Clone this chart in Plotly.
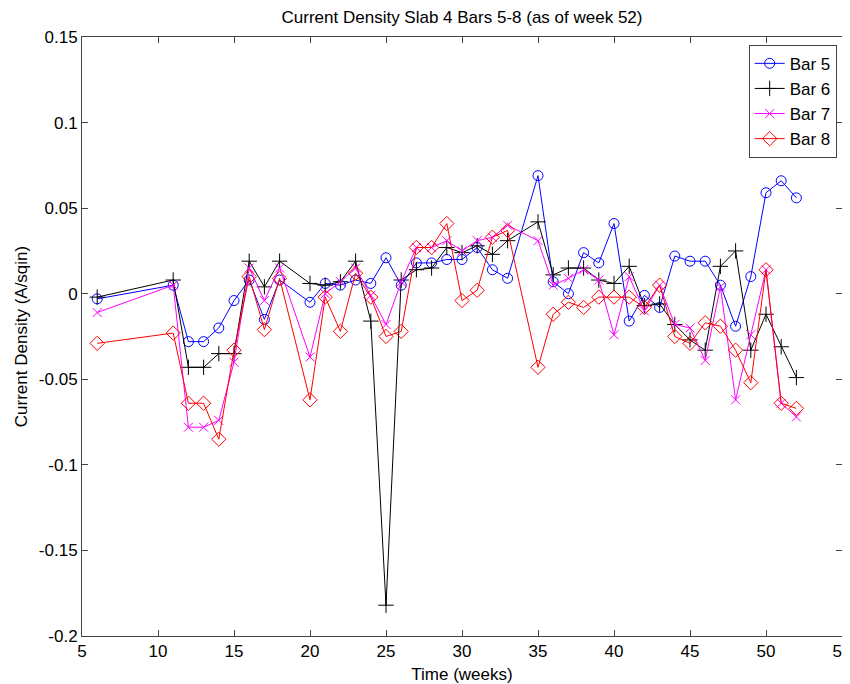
import plotly.graph_objects as go

weeks = [6, 11, 12, 13, 14, 15, 16, 17, 18, 20, 21, 22, 23, 24, 25, 26, 27, 28, 29,
         30, 31, 32, 33, 35, 36, 37, 38, 39, 40, 41, 42, 43, 44, 45, 46, 47, 48, 49,
         50, 51, 52]

bar5 = [-0.003, 0.005, -0.028, -0.028, -0.020, -0.004, 0.008, -0.015, 0.008, -0.005,
        0.006, 0.005, 0.008, 0.006, 0.021, 0.005, 0.018, 0.018, 0.020,
        0.020, 0.027, 0.014, 0.009, 0.069, 0.007, 0.000, 0.024, 0.018, 0.041, -0.016,
        -0.001, -0.008, 0.022, 0.019, 0.019, 0.005, -0.019, 0.010, 0.059, 0.066, 0.056]

bar6 = [-0.002, 0.008, -0.043, -0.043, -0.035, -0.035, 0.019, 0.004, 0.019, 0.006,
        0.005, 0.007, 0.019, -0.016, -0.182, 0.008, 0.014, 0.015, 0.027,
        0.024, 0.028, 0.023, 0.031, 0.042, 0.011, 0.015, 0.015, 0.008, 0.006, 0.016,
        -0.007, -0.006, -0.018, -0.027, -0.033, 0.016, 0.025, -0.033, -0.012, -0.031, -0.049]

bar7 = [-0.011, 0.005, -0.078, -0.078, -0.074, -0.040, 0.015, -0.004, 0.015, -0.037,
        0.000, 0.007, 0.015, -0.001, -0.018, 0.007, 0.027, 0.027, 0.031,
        0.025, 0.031, 0.033, 0.040, 0.031, 0.005, 0.009, 0.014, 0.008, -0.024, 0.010,
        -0.010, 0.005, -0.018, -0.020, -0.039, 0.004, -0.062, -0.024, 0.014, -0.064, -0.072]

bar8 = [-0.029, -0.023, -0.064, -0.064, -0.085, -0.033, 0.010, -0.021, 0.009, -0.062,
        -0.002, -0.022, 0.012, -0.002, -0.025, -0.022, 0.027, 0.027, 0.041,
        -0.004, 0.002, 0.033, 0.037, -0.043, -0.012, -0.005, -0.008, -0.002, -0.002, -0.002,
        -0.008, 0.005, -0.025, -0.029, -0.017, -0.019, -0.033, -0.052, 0.014, -0.064, -0.067]

series = [
    ("Bar 5", bar5, "#0000ff", "circle-open", 10),
    ("Bar 6", bar6, "#000000", "cross-thin-open", 11),
    ("Bar 7", bar7, "#ff00ff", "x-thin-open", 9),
    ("Bar 8", bar8, "#ff0000", "diamond-open", 11),
]

FONT = "Liberation Sans, Arial"
FS = 17

fig = go.Figure()
for name, vals, col, sym, sz in series:
    fig.add_trace(go.Scatter(
        x=weeks, y=vals, name=name, mode="lines+markers",
        line=dict(color=col, width=1),
        marker=dict(symbol=sym, size=sz, color=col, line=dict(color=col, width=1)),
    ))

axis_common = dict(
    showline=True, linecolor="#444444", linewidth=1, mirror="ticks",
    ticks="inside", ticklen=6, tickcolor="#444444", showgrid=False, zeroline=False,
    tickfont=dict(family=FONT, size=FS, color="black"),
    automargin=False, ticklabeloverflow="allow",
)

fig.update_layout(
    width=842, height=676,
    paper_bgcolor="white", plot_bgcolor="white",
    margin=dict(l=74, r=8, t=29, b=48),
    title=dict(text="Current Density Slab 4 Bars 5-8 (as of week 52)",
               xref="paper", x=0.5, xanchor="center",
               yref="container", y=0.987, yanchor="middle",
               font=dict(family=FONT, size=FS, color="black")),
    xaxis=dict(range=[5, 55], tickvals=list(range(5, 56, 5)),
               title=dict(text="Time (weeks)", standoff=7,
                          font=dict(family=FONT, size=FS, color="black")),
               **axis_common),
    yaxis=dict(range=[-0.2, 0.15], tickvals=[-0.2, -0.15, -0.1, -0.05, 0, 0.05, 0.1, 0.15],
               ticktext=["-0.2", "-0.15", "-0.1", "-0.05", "0", "0.05", "0.1", "0.15"],
               title=dict(text="Current Density (A/sqin)", standoff=6,
                          font=dict(family=FONT, size=FS, color="black")),
               **axis_common),
    legend=dict(x=0.993, y=0.987, xanchor="right", yanchor="top",
                bgcolor="white", bordercolor="#444444", borderwidth=1,
                font=dict(family=FONT, size=FS, color="black"),
                tracegroupgap=0),
    showlegend=True,
)

fig.write_html("out.html")
